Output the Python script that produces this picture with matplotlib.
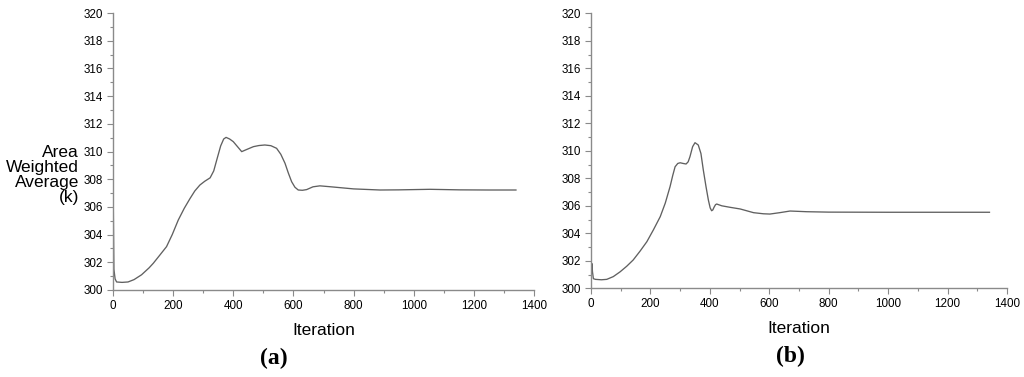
import matplotlib
matplotlib.use("Agg")
import matplotlib.pyplot as plt
from matplotlib.ticker import MultipleLocator

# ---- data ----
iter_a = [0, 1, 3, 7, 12, 30, 50, 70, 95, 120, 134, 155, 178, 197, 217, 237, 256, 272,
          289, 305, 323, 335, 345, 358, 368, 376, 388, 400, 414, 428, 445, 467, 485, 505,
          525, 544, 558, 572, 583, 594, 605, 616, 630, 644, 665, 688, 720, 760, 800, 888,
          950, 1054, 1154, 1250, 1340]
temp_a = [311.5, 306.0, 301.5, 300.8, 300.58, 300.55, 300.58, 300.75, 301.1, 301.6, 301.93,
          302.5, 303.13, 304.0, 305.05, 305.9, 306.6, 307.15, 307.58, 307.85, 308.1, 308.6,
          309.39, 310.4, 310.9, 311.02, 310.9, 310.71, 310.35, 309.99, 310.15, 310.35, 310.43,
          310.47, 310.42, 310.23, 309.8, 309.15, 308.45, 307.82, 307.42, 307.22, 307.2,
          307.25, 307.45, 307.52, 307.46, 307.38, 307.3, 307.22, 307.23, 307.27, 307.23,
          307.22, 307.22]

iter_b = [0, 1, 3, 5, 8, 15, 35, 53, 75, 98, 120, 142, 165, 188, 210, 233, 250, 266, 275,
          283, 292, 300, 310, 320, 327, 333, 342, 350, 356, 361, 370, 378, 387, 395, 401,
          406, 410, 414, 419, 423, 440, 468, 502, 547, 580, 602, 635, 670, 726, 800, 1000,
          1341]
temp_b = [311.6, 301.0, 301.8, 301.2, 300.7, 300.65, 300.62, 300.65, 300.85, 301.2, 301.6,
          302.06, 302.7, 303.39, 304.25, 305.21, 306.2, 307.39, 308.2, 308.84, 309.08,
          309.13, 309.08, 309.04, 309.2, 309.57, 310.3, 310.59, 310.5, 310.42, 309.8, 308.6,
          307.4, 306.42, 305.85, 305.64, 305.7, 305.89, 306.08, 306.13, 306.0, 305.89,
          305.77, 305.5, 305.42, 305.40, 305.5, 305.62, 305.57, 305.54, 305.53, 305.53]

xticks = [0, 200, 400, 600, 800, 1000, 1200, 1400]
yticks = [300, 302, 304, 306, 308, 310, 312, 314, 316, 318, 320]
panel_labels = ["(a)", "(b)"]
xlabel = "Iteration"
ylabel = "Area\nWeighted\nAverage\n(k)"

W, H = 1024, 377
fig = plt.figure(figsize=(W / 100, H / 100), dpi=100)

def px_axes(l, r, t, b):
    return fig.add_axes([l / W, 1 - b / H, (r - l) / W, (b - t) / H])

axes = [px_axes(113, 534, 13, 290), px_axes(591, 1007, 13.3, 288.3)]
series = [(iter_a, temp_a), (iter_b, temp_b)]

spine_col = "#8a8a8a"
for ax, (xs, ys) in zip(axes, series):
    ax.plot(xs, ys, color="#606060", lw=0.95, solid_joinstyle="round")
    ax.set_xlim(0, 1400)
    ax.set_ylim(300, 320)
    ax.set_xticks(xticks)
    ax.set_yticks(yticks)
    ax.xaxis.set_minor_locator(MultipleLocator(100))
    ax.yaxis.set_minor_locator(MultipleLocator(1))
    for s in ("top", "right"):
        ax.spines[s].set_visible(False)
    for s in ("left", "bottom"):
        ax.spines[s].set_color(spine_col)
        ax.spines[s].set_linewidth(1.0)
    ax.tick_params(which="major", length=4, width=0.8, color=spine_col, labelsize=8.4,
                   labelcolor="black", pad=3)
    ax.tick_params(which="minor", length=2.5, width=0.8, color=spine_col)
    for lab in ax.get_xticklabels() + ax.get_yticklabels():
        lab.set_fontfamily("Liberation Sans")
    ax.set_xlabel(xlabel, fontsize=12.5, family="Liberation Sans")
    ax.xaxis.set_label_coords(0.5, -0.12)
    ax.patch.set_visible(False)

fig.text(79 / W, 1 - 175 / H, ylabel, ha="right", va="center", fontsize=12.5,
         family="Liberation Sans", linespacing=0.98, multialignment="right")

fig.text(274 / W, 1 - 358 / H, panel_labels[0], ha="center", va="center",
         fontsize=17, family="Liberation Serif", fontweight="bold")
fig.text(790 / W, 1 - 356 / H, panel_labels[1], ha="center", va="center",
         fontsize=17, family="Liberation Serif", fontweight="bold")

fig.savefig("out.png", dpi=100)
